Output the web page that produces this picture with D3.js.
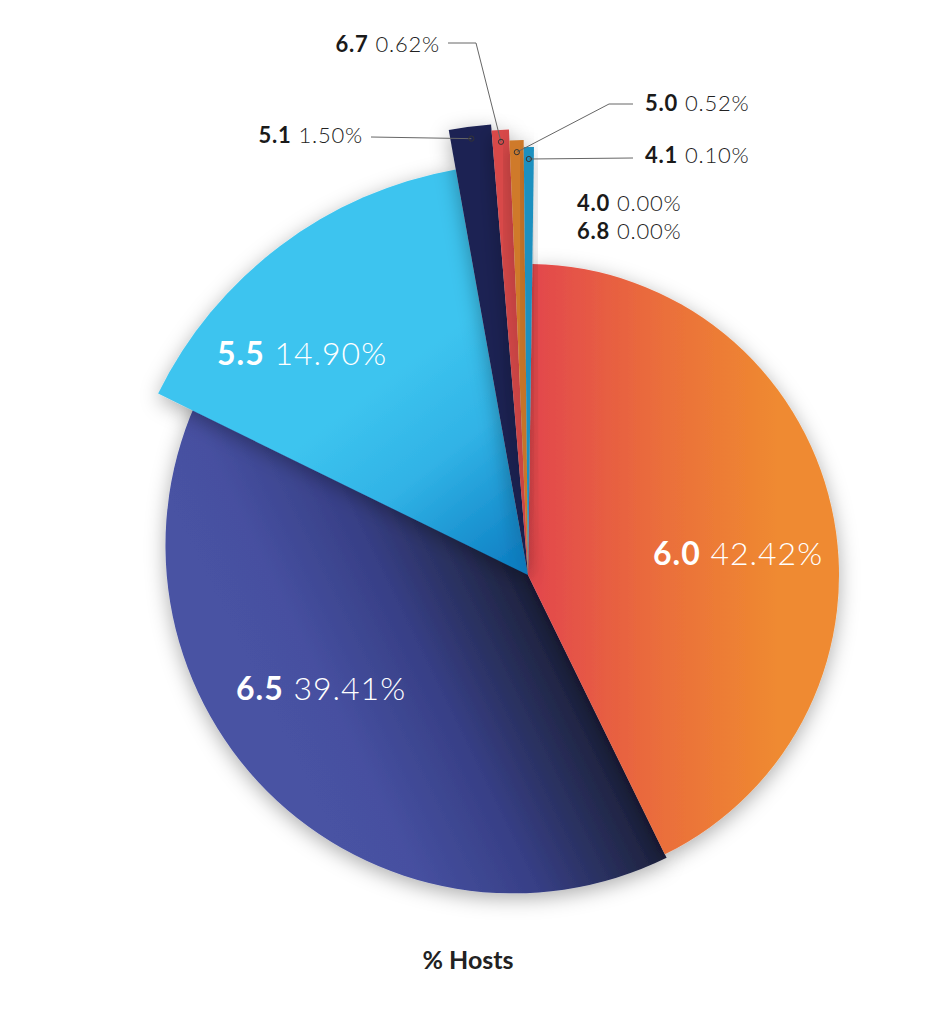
<!DOCTYPE html>
<html>
<head>
<meta charset="utf-8">
<script src="https://cdn.jsdelivr.net/npm/d3@7"></script>
<style>
  body { margin: 0; background: #fff; }
  svg { display: block; }
</style>
</head>
<body>
<div id="main"></div>
<script>
// Versions and their share of hosts, clockwise from 12 o'clock
const versions = ['6.0', '6.5', '5.5', '5.1', '6.7', '5.0', '4.1', '4.0', '6.8'];
const shares = [42.42, 39.41, 14.90, 1.50, 0.62, 0.52, 0.10, 0.00, 0.00];
const title = '% Hosts';

const data = versions.map((v, i) => ({ version: v, share: shares[i] }));

// Size of the SVG and the pie's centre
const w = 937;
const h = 1024;
const cx = 528;
const cy = 575;
const rad = Math.PI / 180;
const start = 0.8 * rad;
const minShare = 0.38; // so the thinnest slice still shows

// each slice has its own radius, like the original
const sliceStyle = {
    '6.0': { r: 311, fill: 'url(#g60)' },
    '6.5': { r: 348, shift: -33, fill: 'url(#g65)' },
    '5.5': { r: 412, fill: 'url(#g55)' },
    '5.1': { r: 452, fill: '#1b2152' },
    '6.7': { r: 446, fill: '#d8484a' },
    '5.0': { r: 435, fill: '#cf7a2b' },
    '4.1': { r: 428, fill: '#1f90bf' }
};
const drawOrder = ['6.5', '6.0', '5.5', '5.1', '6.7', '5.0', '4.1'];

// where the texts go
const innerLabels = { '6.0': [653, 565], '6.5': [236, 700], '5.5': [217, 365] };
const callouts = [
    { v: '6.7', x: 440, y: 52, anchor: 'end', lineY: 43, elbowX: 476 },
    { v: '5.1', x: 363, y: 143, anchor: 'end', lineY: 137 },
    { v: '5.0', x: 645, y: 111, anchor: 'start', lineY: 104, elbowX: 609 },
    { v: '4.1', x: 645, y: 163, anchor: 'start', lineY: 158 },
    { v: '4.0', x: 577, y: 211, anchor: 'start' },
    { v: '6.8', x: 577, y: 239, anchor: 'start' }
];

const svg = d3.select('#main')
    .append('svg')
    .attr('width', w)
    .attr('height', h);

const defs = svg.append('defs');

const shadow = defs.append('filter')
    .attr('id', 'shadow')
    .attr('x', '-30%').attr('y', '-30%')
    .attr('width', '160%').attr('height', '160%');
shadow.append('feDropShadow')
    .attr('dx', 0).attr('dy', 5)
    .attr('stdDeviation', 10)
    .attr('flood-color', '#000')
    .attr('flood-opacity', 0.32);

// gradients are given relative to the pie centre (the slices live in a translated group)
function gradient(id, x1, y1, x2, y2, stops) {
    const g = defs.append('linearGradient')
        .attr('id', id)
        .attr('gradientUnits', 'userSpaceOnUse')
        .attr('x1', x1).attr('y1', y1)
        .attr('x2', x2).attr('y2', y2);
    stops.forEach(s => g.append('stop').attr('offset', s[0]).attr('stop-color', s[1]));
}

const pie = d3.pie()
    .sort(null)
    .value(d => d.share > 0 ? Math.max(d.share, minShare) : 0)
    .startAngle(start)
    .endAngle(2 * Math.PI + start);

const arcs = pie(data);
const byVersion = {};
arcs.forEach(a => byVersion[a.data.version] = a);

// 6.5 is pulled back along its edge with 6.0, so the shade runs across from that edge
const a65 = byVersion['6.5'].startAngle;
const nx = Math.cos(a65), ny = Math.sin(a65);
gradient('g65', 0, 0, nx * 290, ny * 290,
    [[0, '#1b1e3a'], [0.1, '#22284a'], [0.45, '#373f86'], [0.8, '#4650a0'], [1, '#4852a3']]);
gradient('g60', 0, 0, 250, 0,
    [[0, '#e2464d'], [0.5, '#ea6c3c'], [1, '#ef8a30']]);
gradient('g55', -150, -190, -5, 0,
    [[0, '#3dc4ef'], [0.4, '#31b3e6'], [1, '#0a7ac0']]);

const arc = d3.arc()
    .innerRadius(0)
    .outerRadius(d => sliceStyle[d.data.version].r);

const pieG = svg.append('g')
    .attr('transform', `translate(${cx}, ${cy})`);

pieG.selectAll('path')
    .data(drawOrder.map(v => byVersion[v]))
    .enter()
    .append('path')
    .attr('d', arc)
    .attr('fill', d => sliceStyle[d.data.version].fill)
    .attr('filter', 'url(#shadow)')
    .attr('transform', d => {
        const s = sliceStyle[d.data.version].shift || 0;
        return `translate(${s * Math.sin(d.startAngle)}, ${-s * Math.cos(d.startAngle)})`;
    });

// labels inside the big slices
const fmt = d3.format('.2f');

function label(sel, v, boldColor, lightColor) {
    sel.append('tspan')
        .attr('font-weight', 700)
        .attr('fill', boldColor)
        .text(v);
    sel.append('tspan')
        .attr('font-weight', 300)
        .attr('fill', lightColor)
        .text(' ' + fmt(byVersion[v].data.share) + '%');
}

Object.keys(innerLabels).forEach(v => {
    const t = svg.append('text')
        .attr('x', innerLabels[v][0])
        .attr('y', innerLabels[v][1])
        .attr('font-family', 'Lato, "Open Sans", sans-serif')
        .attr('font-size', 32)
        .attr('letter-spacing', 1);
    label(t, v, '#fff', '#fff');
});

// callouts for the thin slices
callouts.forEach(c => {
    const t = svg.append('text')
        .attr('x', c.x)
        .attr('y', c.y)
        .attr('text-anchor', c.anchor)
        .attr('font-family', 'Lato, "Open Sans", sans-serif')
        .attr('font-size', 22)
        .attr('letter-spacing', 0.8);
    label(t, c.v, '#1a1a1a', '#222');

    if (c.lineY === undefined) return;
    const d = byVersion[c.v];
    const mid = (d.startAngle + d.endAngle) / 2;
    const ra = sliceStyle[c.v].r - 12;
    const px = cx + ra * Math.sin(mid);
    const py = cy - ra * Math.cos(mid);
    const sx = c.anchor === 'end' ? c.x + 8 : c.x - 12;
    const pts = [[sx, c.lineY]];
    if (c.elbowX !== undefined) pts.push([c.elbowX, c.lineY]);
    pts.push([px, py]);

    svg.append('path')
        .attr('d', d3.line()(pts))
        .attr('fill', 'none')
        .attr('stroke', '#666')
        .attr('stroke-width', 1);
    svg.append('circle')
        .attr('cx', px)
        .attr('cy', py)
        .attr('r', 2.6)
        .attr('fill', 'none')
        .attr('stroke', '#333')
        .attr('stroke-width', 1);
});

svg.append('text')
    .attr('x', 468)
    .attr('y', 969)
    .attr('text-anchor', 'middle')
    .attr('font-family', 'Lato, "Open Sans", sans-serif')
    .attr('font-weight', 700)
    .attr('font-size', 25)
    .attr('fill', '#222')
    .text(title);
</script>
</body>
</html>
